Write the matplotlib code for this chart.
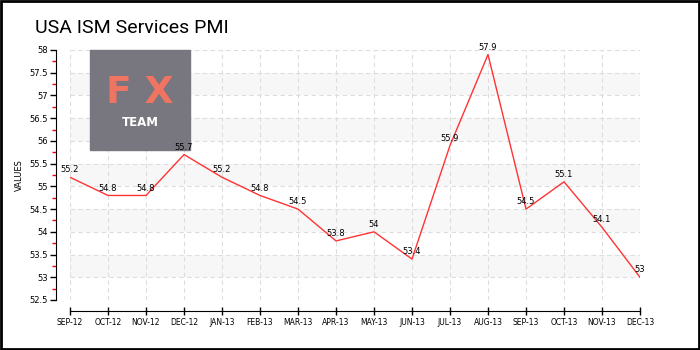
import matplotlib
matplotlib.use("Agg")
import matplotlib.pyplot as plt
from matplotlib.patches import Rectangle

MONTHS = ["SEP-12", "OCT-12", "NOV-12", "DEC-12", "JAN-13", "FEB-13", "MAR-13", "APR-13",
          "MAY-13", "JUN-13", "JUL-13", "AUG-13", "SEP-13", "OCT-13", "NOV-13", "DEC-13"]
PMI = [55.2, 54.8, 54.8, 55.7, 55.2, 54.8, 54.5, 53.8,
       54.0, 53.4, 55.9, 57.9, 54.5, 55.1, 54.1, 53.0]
Y_TICKS = [52.5, 53, 53.5, 54, 54.5, 55, 55.5, 56, 56.5, 57, 57.5, 58]


def fmt(v):
    return "{:g}".format(v)


def main():
    fig = plt.figure(figsize=(7, 3.5), dpi=100)
    fig.patch.set_facecolor("white")
    # black frame round the whole picture
    fig.add_artist(Rectangle((0.001, 0.002), 0.997, 0.995, transform=fig.transFigure,
                             fill=False, edgecolor="black", linewidth=2))

    # plot area spans x 70..640 px, y 50..300 px
    ax = fig.add_axes([70 / 700, 50 / 350, 570 / 700, 250 / 350])
    x = list(range(len(MONTHS)))
    ax.set_xlim(0, len(MONTHS) - 1)
    ax.set_ylim(Y_TICKS[0], Y_TICKS[-1])

    # alternating shaded bands
    for lo in Y_TICKS[1:-1:2]:
        ax.axhspan(lo, lo + 0.5, color="#f7f7f7", zorder=0, linewidth=0)

    # logo watermark
    ax.add_patch(Rectangle((20 / 570, 0.6), 100 / 570, 0.4, transform=ax.transAxes,
                           color="#78777f", zorder=0.6, clip_on=False))
    ax.text(70 / 570, 0.828, "F X", transform=ax.transAxes, color="#f07462", fontsize=27,
            fontweight="bold", ha="center", va="center", zorder=0.7)
    ax.text(70 / 570, 0.712, "TEAM", transform=ax.transAxes, color="white", fontsize=8.5,
            fontweight="bold", ha="center", va="center", zorder=0.7)

    ax.set_yticks(Y_TICKS)
    ax.set_yticklabels([fmt(v) for v in Y_TICKS])
    ax.set_yticks([v + 0.25 for v in Y_TICKS[:-1]], minor=True)
    ax.set_xticks(x)
    ax.set_xticklabels(MONTHS)
    ax.grid(True, which="major", color="#dddddd", linestyle=(0, (4, 3)), linewidth=0.8, zorder=0.5)
    ax.set_axisbelow(True)

    for s in ["top", "right"]:
        ax.spines[s].set_visible(False)
    ax.spines["left"].set_position(("outward", 10))
    ax.spines["bottom"].set_position(("outward", 8))
    ax.spines["bottom"].set_bounds(0, len(MONTHS) - 1)
    ax.tick_params(axis="y", which="major", length=4, width=1, labelsize=6, pad=2)
    ax.tick_params(axis="y", which="minor", length=3, width=1, color="red")
    ax.tick_params(axis="x", direction="inout", length=6, width=1, labelsize=5.5, pad=2)
    ax.set_ylabel("VALUES", fontsize=6, labelpad=4)

    ax.plot(x, PMI, color="#ff3333", linewidth=1, zorder=3)
    for xi, v in zip(x, PMI):
        ax.annotate(fmt(v), (xi, v), xytext=(0, 2), textcoords="offset points",
                    ha="center", va="bottom", fontsize=6, zorder=4)

    fig.text(35 / 700, 1 - 28 / 350, "USA ISM Services PMI", fontsize=14,
             family="Roboto", ha="left", va="center")

    fig.savefig("out.png", dpi=100)


if __name__ == "__main__":
    main()
